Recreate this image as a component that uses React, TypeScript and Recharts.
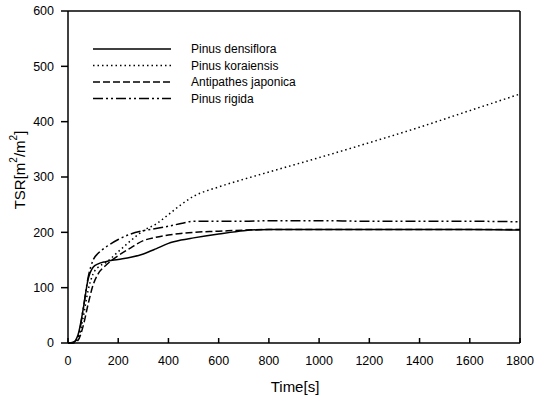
import React from 'react'
import {
  LineChart, Line, XAxis, YAxis, ReferenceLine
} from 'recharts'

const times = [0, 20, 40, 60, 80, 100, 120, 150, 200, 250, 300, 350, 400, 450, 500, 600, 700, 800, 1000, 1200, 1400, 1600, 1800]

const pinusDensiflora = [0, 1, 15, 60, 115, 137, 143, 147, 151, 155, 161, 170, 180, 186, 190, 197, 203, 205, 205, 205, 205, 205, 204]
const pinusKoraiensis = [0, 1, 8, 45, 95, 125, 137, 145, 165, 185, 203, 215, 232, 250, 265, 282, 296, 309, 335, 362, 390, 420, 450]
const antipathesJaponica = [0, 0, 5, 30, 70, 105, 125, 140, 158, 172, 185, 191, 195, 198, 200, 202, 204, 205, 205, 205, 205, 205, 205]
const pinusRigida = [0, 1, 10, 60, 118, 150, 162, 173, 187, 197, 203, 207, 211, 216, 220, 220, 220, 221, 221, 220, 220, 220, 219]

const xTicks = [0, 200, 400, 600, 800, 1000, 1200, 1400, 1600, 1800]
const yTicks = [0, 100, 200, 300, 400, 500, 600]

const series = [
  { key: 'pd', name: 'Pinus densiflora', values: pinusDensiflora, dash: undefined },
  { key: 'pk', name: 'Pinus koraiensis', values: pinusKoraiensis, dash: '1.5 3' },
  { key: 'aj', name: 'Antipathes japonica', values: antipathesJaponica, dash: '7 3' },
  { key: 'pr', name: 'Pinus rigida', values: pinusRigida, dash: '10 3 2 3 2 3' },
]

const data = times.map((t, i) => {
  const row: any = { t }
  series.forEach(s => { row[s.key] = s.values[i] })
  return row
})

const font = '"Liberation Sans", Arial, sans-serif'

// legend drawn on top of the plot, upper left
const LegendBox = () => (
  <svg width={240} height={70} style={{ position: 'absolute', left: 93, top: 43 }}>
    {series.map((s, i) => (
      <g key={s.key}>
        <line x1={0} x2={78} y1={6 + i * 16.5} y2={6 + i * 16.5} stroke="#000" strokeWidth={1.5} strokeDasharray={s.dash} />
        <text x={98} y={10 + i * 16.5} fontSize={12} fontFamily={font} fill="#000">{s.name}</text>
      </g>
    ))}
  </svg>
)

const YTitle = () => (
  <text
    x={19}
    y={170}
    transform="rotate(-90, 19, 170)"
    textAnchor="middle"
    dominantBaseline="central"
    fontSize={15}
    fontFamily={font}
    fill="#000"
  >
    TSR[m<tspan fontSize={10} dy={-6}>2</tspan><tspan dy={6}>/m</tspan><tspan fontSize={10} dy={-6}>2</tspan><tspan dy={6}>]</tspan>
  </text>
)

const XTitle = () => (
  <text x={295} y={392} textAnchor="middle" fontSize={15} fontFamily={font} fill="#000">Time[s]</text>
)

export default function App() {
  return (
    <div style={{ position: 'absolute', left: 0, top: 0, width: 535, height: 401, background: '#fff' }}>
      <LineChart width={535} height={401} data={data} margin={{ top: 11, right: 15, left: 8, bottom: 28 }}>
        <XAxis
          dataKey="t"
          type="number"
          domain={[0, 1800]}
          ticks={xTicks}
          tickSize={-5}
          tickMargin={18}
          height={30}
          stroke="#000"
          strokeWidth={1.5}
          tick={{ fill: '#000', fontSize: 12.5, fontFamily: font }}
          label={{ content: () => <XTitle /> }}
        />
        <YAxis
          type="number"
          domain={[0, 600]}
          ticks={yTicks}
          tickSize={7}
          tickMargin={7}
          width={60}
          stroke="#000"
          strokeWidth={1.5}
          tick={{ fill: '#000', fontSize: 12.5, fontFamily: font }}
          label={{ content: () => <YTitle /> }}
        />
        <ReferenceLine y={600} stroke="#000" strokeWidth={1.5} />
        <ReferenceLine x={1800} stroke="#000" strokeWidth={1.5} />
        {series.map(s => (
          <Line
            key={s.key}
            dataKey={s.key}
            name={s.name}
            type="monotone"
            stroke="#000"
            strokeWidth={1.5}
            strokeDasharray={s.dash}
            dot={false}
            isAnimationActive={false}
          />
        ))}
      </LineChart>
      <LegendBox />
    </div>
  )
}
